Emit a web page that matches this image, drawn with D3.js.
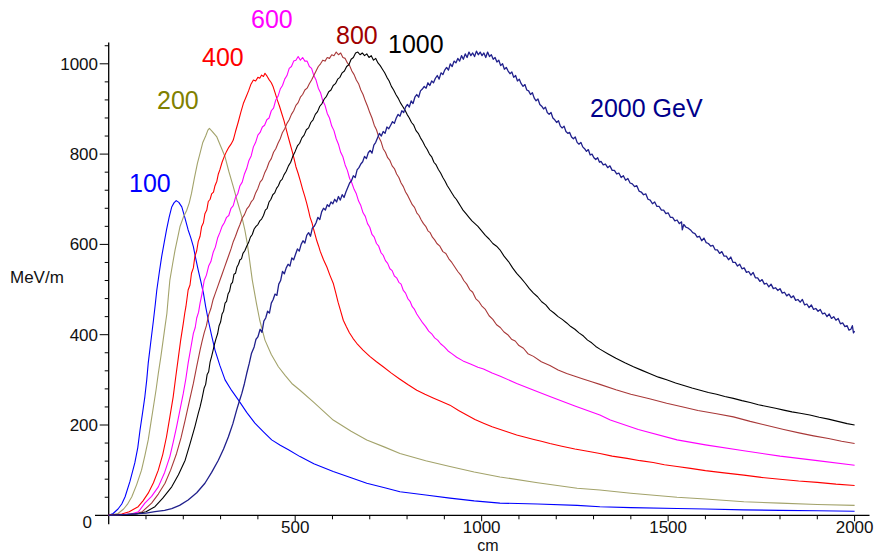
<!DOCTYPE html>
<html><head><meta charset="utf-8">
<script src="https://cdn.jsdelivr.net/npm/d3@7"></script>
<style>
html,body{margin:0;padding:0;background:#fff;}
svg{display:block;font-family:"Liberation Sans",Arial,sans-serif;}
</style></head>
<body><svg id="c" width="877" height="554"></svg>
<script>
// ---- data (depth cm, MeV/m) ----
const e100 = [[0,0],[12,4],[25,14],[35,25],[44,41],[57,75],[70,116],[78,150],[84,189],[91,228],[97,263],[102,300],[106,337],[113,385],[120,432],[125,468],[129,499],[136,540],[142,573],[149,605],[155,632],[162,660],[169,683],[175,692],[181,697],[188,693],[196,683],[204,660],[213,632],[220,615],[227,595],[233,570],[240,543],[247,518],[254,492],[260,462],[267,432],[276,398],[285,366],[298,332],[312,300],[330,276],[348,255],[370,228],[392,204],[415,185],[437,167],[460,155],[482,145],[513,130],[550,114],[602,97],[650,83],[692,71],[740,61],[781,52],[850,45],[915,38],[980,32],[1049,27],[1150,25],[1256,22],[1317,19],[1400,17],[1524,15],[1600,14],[1703,12],[1800,11],[1900,10],[2000,9]];
const e200 = [[0,0],[25,4],[40,14],[50,24],[62,41],[75,68],[88,100],[97,132],[106,167],[113,204],[120,241],[127,278],[133,314],[140,352],[146,388],[151,418],[156,447],[160,485],[164,521],[171,555],[178,588],[185,615],[191,639],[200,660],[209,675],[216,692],[222,713],[230,748],[238,780],[245,802],[252,825],[260,840],[266,853],[270,857],[278,850],[290,838],[300,818],[312,794],[322,762],[334,728],[345,695],[357,661],[365,632],[372,600],[385,521],[396,470],[405,432],[419,388],[436,356],[455,329],[473,310],[491,292],[513,277],[550,250],[602,211],[650,186],[692,167],[740,151],[781,137],[850,121],[915,108],[980,96],[1049,85],[1150,72],[1256,60],[1317,56],[1400,49],[1524,40],[1600,36],[1703,30],[1800,27],[1900,24],[2000,22]];
const e400 = [[0,0],[35,3],[55,8],[79,19],[92,32],[106,49],[120,72],[133,100],[145,135],[155,174],[164,218],[173,263],[180,308],[187,351],[193,388],[200,425],[204,448],[207,462],[213,499],[218,510],[222,536],[227,548],[231,573],[236,586],[240,606],[245,618],[249,639],[254,648],[258,668],[263,676],[267,695],[272,700],[276,712],[281,716],[285,730],[290,740],[294,756],[298,765],[304,782],[310,795],[316,806],[322,815],[328,822],[334,831],[340,850],[347,870],[354,892],[361,912],[368,926],[375,940],[381,954],[388,964],[394,962],[400,970],[405,968],[410,975],[415,972],[419,979],[425,972],[430,965],[436,958],[441,949],[446,936],[452,920],[458,906],[464,890],[470,874],[475,858],[480,842],[486,824],[492,806],[497,790],[502,772],[508,757],[514,740],[520,722],[526,706],[531,691],[536,674],[540,660],[545,648],[549,635],[554,620],[558,608],[563,596],[567,585],[576,566],[585,550],[593,532],[602,514],[609,492],[615,472],[622,452],[629,432],[637,418],[645,405],[655,392],[665,381],[682,366],[700,352],[718,340],[736,329],[758,315],[780,302],[803,289],[826,277],[848,268],[870,260],[892,252],[915,244],[938,232],[960,222],[982,212],[1005,204],[1028,196],[1050,190],[1072,184],[1094,178],[1117,173],[1140,168],[1160,164],[1183,159],[1215,153],[1250,147],[1284,142],[1317,137],[1350,131],[1390,126],[1425,121],[1460,117],[1490,112],[1524,108],[1560,104],[1600,99],[1650,94],[1703,89],[1750,84],[1800,80],[1850,76],[1900,73],[1950,69],[2000,66]];
const e600 = [[0,0],[60,3],[80,8],[97,27],[115,42],[133,63],[150,95],[164,130],[173,162],[182,196],[191,233],[200,270],[207,303],[213,337],[220,370],[227,403],[232,416],[236,437],[241,450],[245,470],[250,490],[256,520],[262,532],[268,552],[274,562],[280,582],[286,594],[292,614],[298,626],[304,640],[310,648],[316,660],[322,664],[328,680],[334,686],[340,704],[346,712],[352,730],[358,738],[364,756],[370,768],[376,786],[382,796],[388,816],[394,826],[400,842],[406,848],[412,860],[418,864],[424,876],[430,880],[436,896],[442,902],[448,920],[454,928],[460,944],[466,952],[472,966],[478,974],[484,990],[490,994],[496,1006],[502,1008],[508,1016],[514,1008],[520,1014],[526,1006],[532,1006],[538,994],[544,990],[550,974],[556,964],[562,946],[568,936],[574,918],[580,908],[586,890],[592,880],[598,862],[604,852],[610,834],[616,822],[622,804],[628,794],[634,776],[640,764],[646,746],[652,736],[658,722],[664,712],[670,696],[676,686],[682,670],[688,662],[694,646],[700,638],[706,622],[712,616],[718,602],[724,596],[730,582],[736,576],[742,564],[748,558],[754,546],[760,542],[766,530],[772,526],[778,516],[784,512],[790,498],[796,492],[802,480],[808,474],[814,462],[820,456],[826,446],[834,436],[842,426],[850,418],[858,408],[866,402],[874,393],[882,388],[890,380],[900,373],[910,364],[920,358],[933,350],[950,342],[970,335],[990,328],[1005,324],[1028,315],[1050,308],[1094,292],[1140,277],[1183,263],[1250,242],[1317,222],[1345,211],[1420,190],[1524,167],[1600,156],[1703,143],[1800,131],[1900,121],[2000,111]];
const e800 = [[0,0],[70,3],[90,8],[115,27],[133,47],[151,71],[166,100],[182,137],[194,172],[205,211],[216,252],[227,292],[236,330],[245,366],[250,384],[256,404],[262,420],[268,444],[274,458],[280,478],[286,492],[292,506],[298,520],[304,534],[310,548],[316,562],[322,576],[328,590],[334,606],[340,618],[346,632],[352,644],[358,658],[364,666],[370,678],[376,684],[382,694],[388,700],[394,714],[400,724],[406,738],[412,744],[418,758],[424,768],[430,782],[436,790],[442,804],[448,812],[454,824],[460,834],[466,848],[472,856],[478,868],[484,876],[490,888],[496,896],[502,908],[508,914],[514,926],[520,932],[526,942],[532,946],[538,956],[544,964],[550,974],[556,984],[562,994],[568,1000],[574,1008],[580,1006],[586,1014],[592,1012],[598,1020],[604,1018],[610,1026],[616,1020],[622,1024],[628,1014],[634,1012],[640,1002],[646,996],[652,984],[658,976],[664,964],[670,956],[676,942],[682,932],[688,918],[694,906],[700,892],[706,880],[712,864],[718,854],[724,838],[730,828],[736,812],[742,804],[748,792],[754,786],[760,774],[766,768],[772,756],[778,748],[784,736],[790,728],[796,716],[802,708],[808,698],[814,688],[820,682],[826,670],[832,664],[838,654],[844,646],[850,640],[856,630],[862,626],[868,616],[874,610],[880,602],[888,596],[896,584],[904,580],[912,568],[920,560],[928,550],[936,540],[944,532],[952,520],[960,512],[968,500],[976,494],[984,480],[992,474],[1000,464],[1010,456],[1020,442],[1030,434],[1040,422],[1050,416],[1060,406],[1070,400],[1080,390],[1090,386],[1100,376],[1112,370],[1124,358],[1139,352],[1160,340],[1183,332],[1205,322],[1228,314],[1250,308],[1272,302],[1295,296],[1317,290],[1360,278],[1400,268],[1450,258],[1496,248],[1540,240],[1580,232],[1630,225],[1675,218],[1720,208],[1760,200],[1810,190],[1854,182],[1890,176],[1930,170],[1965,164],[2000,159]];
const e1000 = [[0,0],[75,3],[100,8],[124,19],[145,38],[169,63],[187,90],[205,122],[218,158],[231,196],[240,225],[245,240],[250,258],[256,282],[260,290],[264,312],[268,318],[272,340],[276,352],[280,366],[284,380],[288,392],[292,402],[296,420],[300,428],[304,446],[308,452],[312,470],[316,474],[320,490],[324,496],[328,512],[332,516],[336,534],[340,536],[344,550],[348,556],[352,566],[356,568],[360,580],[365,586],[370,596],[375,604],[380,616],[385,622],[390,634],[395,640],[400,644],[405,652],[410,656],[415,664],[420,676],[425,680],[430,694],[435,700],[440,710],[445,714],[450,724],[455,730],[460,740],[465,744],[470,754],[476,762],[482,774],[488,782],[494,796],[500,806],[506,818],[512,824],[518,836],[524,842],[530,854],[536,858],[542,870],[548,876],[554,888],[560,894],[566,906],[572,912],[578,922],[584,928],[590,938],[596,942],[602,952],[608,956],[614,966],[620,970],[626,980],[632,984],[638,994],[644,998],[650,1010],[656,1014],[662,1024],[668,1026],[674,1020],[680,1024],[686,1018],[692,1022],[698,1014],[704,1018],[710,1008],[716,1012],[722,1002],[728,996],[734,988],[740,980],[746,970],[752,962],[758,950],[764,942],[770,932],[776,924],[782,914],[788,906],[794,898],[800,888],[806,880],[812,870],[818,864],[824,852],[830,846],[836,836],[842,828],[848,818],[854,810],[860,800],[866,794],[872,782],[878,776],[884,766],[890,758],[896,748],[902,740],[908,730],[914,722],[920,714],[926,706],[932,700],[938,692],[944,684],[950,676],[958,668],[966,660],[974,652],[982,646],[990,640],[1000,630],[1010,620],[1020,612],[1030,602],[1040,596],[1049,588],[1060,574],[1072,562],[1083,548],[1094,536],[1105,526],[1117,514],[1128,502],[1139,492],[1150,484],[1161,473],[1172,466],[1183,455],[1194,448],[1205,440],[1216,434],[1228,426],[1239,418],[1250,412],[1261,404],[1273,397],[1284,388],[1295,382],[1306,374],[1317,368],[1338,358],[1360,348],[1384,338],[1407,329],[1430,321],[1450,314],[1474,306],[1496,300],[1520,293],[1540,288],[1564,282],[1586,277],[1608,272],[1630,268],[1652,263],[1675,259],[1698,254],[1720,250],[1742,245],[1765,241],[1788,237],[1810,233],[1832,229],[1854,226],[1880,222],[1905,217],[1930,213],[1955,208],[1980,203],[2000,200]];
const e2000 = [[0,0],[50,2],[100,5],[124,8],[150,11],[169,15],[190,22],[213,34],[236,50],[258,71],[276,95],[294,122],[308,147],[321,174],[333,203],[343,233],[350,252],[357,270],[364,292],[370,314],[377,337],[383,359],[390,373],[395,390],[400,395],[406,412],[411,405],[416,430],[421,437],[426,452],[431,448],[436,470],[441,478],[446,490],[451,487],[456,512],[461,520],[466,540],[471,535],[476,548],[481,556],[486,552],[491,570],[496,566],[501,578],[506,590],[511,585],[516,600],[521,608],[526,603],[531,620],[536,626],[541,618],[546,636],[551,640],[556,648],[561,660],[566,655],[571,672],[576,680],[581,676],[586,688],[591,684],[596,694],[601,690],[606,700],[611,694],[616,706],[621,698],[626,710],[631,704],[636,716],[641,726],[646,736],[651,741],[656,752],[661,748],[666,765],[671,770],[676,778],[681,783],[686,795],[691,790],[696,803],[701,808],[706,802],[711,820],[716,826],[721,836],[726,846],[731,840],[736,850],[741,846],[746,860],[751,856],[756,864],[761,872],[766,868],[771,880],[776,888],[781,884],[786,896],[791,892],[796,904],[801,910],[806,904],[811,918],[816,912],[821,926],[826,932],[831,926],[836,940],[841,944],[846,950],[851,946],[856,958],[861,952],[866,962],[871,958],[876,968],[881,974],[886,966],[891,980],[896,976],[901,986],[906,992],[911,986],[916,1000],[921,994],[926,1006],[931,1002],[936,1012],[941,1006],[946,1018],[951,1010],[956,1022],[961,1014],[966,1026],[971,1018],[976,1024],[981,1016],[986,1028],[991,1020],[996,1026],[1001,1018],[1006,1024],[1011,1014],[1016,1026],[1021,1016],[1026,1020],[1031,1010],[1036,1014],[1041,1004],[1046,1008],[1051,996],[1056,1000],[1061,988],[1066,992],[1071,984],[1076,978],[1081,982],[1086,970],[1091,974],[1096,962],[1101,966],[1106,956],[1111,950],[1116,954],[1121,942],[1126,940],[1131,932],[1136,936],[1141,924],[1146,918],[1151,922],[1156,910],[1161,906],[1166,900],[1171,904],[1176,892],[1181,888],[1186,892],[1191,880],[1196,876],[1201,870],[1206,874],[1211,862],[1216,858],[1221,862],[1226,850],[1231,846],[1236,848],[1241,838],[1246,834],[1251,838],[1256,826],[1261,822],[1266,826],[1271,816],[1276,812],[1281,806],[1286,810],[1291,798],[1296,800],[1301,792],[1306,788],[1311,792],[1316,782],[1320,784],[1326,776],[1332,778],[1338,770],[1344,774],[1350,764],[1356,764],[1362,756],[1368,758],[1374,748],[1380,752],[1386,742],[1392,746],[1398,736],[1404,734],[1410,728],[1416,730],[1422,718],[1428,716],[1434,710],[1440,712],[1446,700],[1452,698],[1458,690],[1464,694],[1470,684],[1476,684],[1482,676],[1488,676],[1494,668],[1500,670],[1506,660],[1512,660],[1518,652],[1524,654],[1530,646],[1536,650],[1538,632],[1542,644],[1548,638],[1554,636],[1560,632],[1566,626],[1572,624],[1578,616],[1584,618],[1590,608],[1596,614],[1602,604],[1608,602],[1614,596],[1620,598],[1626,588],[1632,588],[1638,580],[1644,584],[1650,574],[1656,574],[1662,566],[1668,572],[1674,560],[1680,560],[1686,552],[1692,556],[1698,546],[1704,548],[1710,538],[1716,540],[1722,532],[1728,538],[1734,526],[1740,526],[1746,518],[1752,522],[1758,512],[1764,514],[1770,506],[1776,512],[1782,502],[1788,504],[1794,498],[1800,502],[1806,492],[1812,494],[1818,486],[1824,490],[1830,482],[1836,486],[1842,476],[1848,478],[1854,472],[1860,478],[1866,466],[1872,468],[1878,460],[1884,466],[1890,456],[1896,458],[1902,452],[1908,456],[1914,446],[1920,448],[1926,440],[1932,446],[1938,436],[1944,440],[1950,432],[1956,436],[1962,424],[1968,426],[1974,418],[1980,420],[1985,410],[1990,412],[1994,420],[1997,404],[2000,408]];

const seriesNames = ["100","200","400","600","800","1000","2000 GeV"];
const seriesData = [e100,e200,e400,e600,e800,e1000,e2000];
const lineColors = ["#0000ff","#a3a36b","#ff0000","#ff00ff","#a83838","#000000","#20208c"];
const labelColors = ["#0000ff","#808000","#ff0000","#ff00ff","#a00000","#000000","#00008b"];
const labelPos = [[129,192],[157,109],[202,66],[251,28],[336,44],[388,53],[590,117]];
const yMajor = [0,200,400,600,800,1000];
const xMajor = [500,1000,1500,2000];
const xTitle = "cm";
const yTitle = "MeV/m";

// ---- chart ----
const svg = d3.select("#c");
const x = d3.scaleLinear().domain([0,2000]).range([108.7,854.6]);
const y = d3.scaleLinear().domain([0,1000]).range([515.3,63.8]);

const axisG = svg.append("g").attr("stroke","#000").attr("fill","none");
axisG.append("line").attr("x1",95).attr("x2",x(2040)).attr("y1",y(0)).attr("y2",y(0)).attr("stroke-width",1.3);
axisG.append("line").attr("x1",x(0)).attr("x2",x(0)).attr("y1",y(1047)).attr("y2",y(0)+9).attr("stroke-width",1.3);

const yMinor = d3.range(40,1041,40).filter(v=>v%200!==0);
axisG.selectAll(".ymin").data(yMinor).join("line")
  .attr("x1",x(0)-4).attr("x2",x(0)).attr("y1",d=>y(d)).attr("y2",d=>y(d)).attr("stroke-width",1);
axisG.selectAll(".ymaj").data(yMajor.filter(v=>v>0)).join("line")
  .attr("x1",x(0)-9).attr("x2",x(0)).attr("y1",d=>y(d)).attr("y2",d=>y(d)).attr("stroke-width",1);
const xMinor = d3.range(100,2001,100).filter(v=>v%500!==0);
axisG.selectAll(".xmin").data(xMinor).join("line")
  .attr("x1",d=>x(d)).attr("x2",d=>x(d)).attr("y1",y(0)).attr("y2",y(0)+4).attr("stroke-width",1);
axisG.selectAll(".xmaj").data(xMajor).join("line")
  .attr("x1",d=>x(d)).attr("x2",d=>x(d)).attr("y1",y(0)).attr("y2",y(0)+6).attr("stroke-width",1);

const tg = svg.append("g").attr("font-size",17).attr("fill","#111");
tg.selectAll(".yl").data(yMajor).join("text")
  .attr("x",d=>d===0?92:98).attr("y",d=>d===0?y(0)+13:y(d)+6)
  .attr("text-anchor","end").text(d=>d);
tg.selectAll(".xl").data(xMajor).join("text")
  .attr("x",d=>x(d)).attr("y",533).attr("text-anchor","middle").text(d=>d);
tg.append("text").attr("x",488).attr("y",551).attr("font-size",16).attr("text-anchor","middle").text(xTitle);
tg.append("text").attr("x",10).attr("y",283).text(yTitle);

const line = d3.line().x(d=>x(d[0])).y(d=>y(d[1]));
svg.append("g").selectAll("path").data(seriesData).join("path")
  .attr("d",line).attr("fill","none")
  .attr("stroke",(d,i)=>lineColors[i])
  .attr("stroke-width",(d,i)=>i===6?1.3:1.1)
  .attr("stroke-linejoin","round");

svg.append("g").attr("font-size",25).selectAll("text").data(seriesNames).join("text")
  .attr("x",(d,i)=>labelPos[i][0]).attr("y",(d,i)=>labelPos[i][1])
  .attr("fill",(d,i)=>labelColors[i]).text(d=>d);
</script></body></html>
